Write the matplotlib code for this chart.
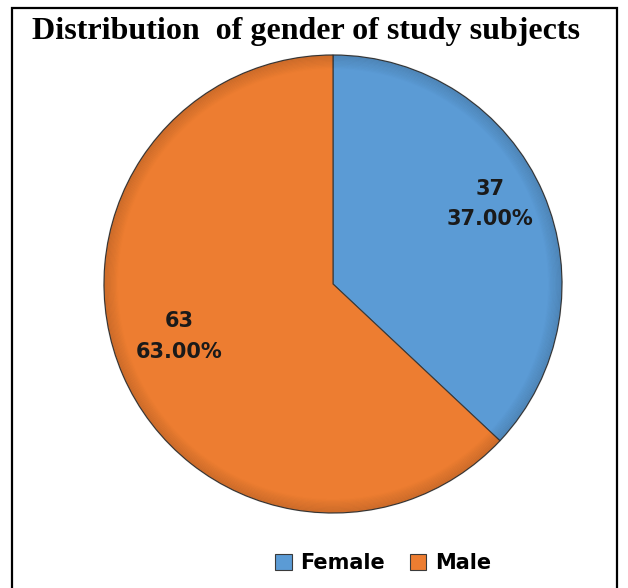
import numpy as np
import matplotlib.pyplot as plt
from matplotlib.patches import Rectangle, Circle

categories = ['Female', 'Male']
counts = [37, 63]
colors = ['#5b9bd5', '#ed7d31']
title = 'Distribution  of gender of study subjects'

# label placement tweaks (Excel "best fit")
label_shift_deg = [3.6, -4.6]
label_dist = [0.77, 0.71]

W, H = 628, 588
fig = plt.figure(figsize=(W / 100, H / 100), dpi=100)
ax = fig.add_axes([0, 0, 1, 1])

# outer frame of the chart
fig.patches.append(Rectangle((12 / W, -0.05), (617 - 12) / W, 1.05 - 8 / H,
                             transform=fig.transFigure, fill=False,
                             edgecolor='black', linewidth=1.6))

cx, cy, r = 333, H - 284, 229
wedges, _ = ax.pie(counts, colors=colors, startangle=90, counterclock=False,
                   center=(cx, cy), radius=r, frame=True,
                   wedgeprops=dict(edgecolor='#3a3a3a', linewidth=0.8))
ax.set_xlim(0, W)
ax.set_ylim(0, H)
ax.set_aspect('equal')
ax.axis('off')

# soft bevel: darken towards the rim
for k in range(12):
    ax.add_patch(Circle((cx, cy), r - k * 1.2, fill=False, edgecolor='black',
                        linewidth=1.4, alpha=0.09 * (12 - k) / 12, zorder=3))

total = sum(counts)
for w, n, sh, d in zip(wedges, counts, label_shift_deg, label_dist):
    ang = np.deg2rad((w.theta1 + w.theta2) / 2 + sh)
    x = cx + d * r * np.cos(ang)
    y = cy + d * r * np.sin(ang)
    ax.text(x, y, f'{n}\n{n / total * 100:.2f}%', ha='center', va='center',
            fontsize=15, fontweight='bold', color='#1a1a1a',
            linespacing=1.65, zorder=4)

fig.text(306 / W, 1 - 32 / H, title, ha='center', va='center',
         fontsize=23, fontweight='bold', family='Liberation Serif')

fig.legend(wedges, categories, loc='center', bbox_to_anchor=(383 / W, 1 - 563 / H),
           ncol=2, frameon=False, handlelength=0.8, handleheight=0.8,
           handletextpad=0.4, columnspacing=1.2,
           prop=dict(size=15, weight='bold'))

fig.savefig('out.png', dpi=100)
